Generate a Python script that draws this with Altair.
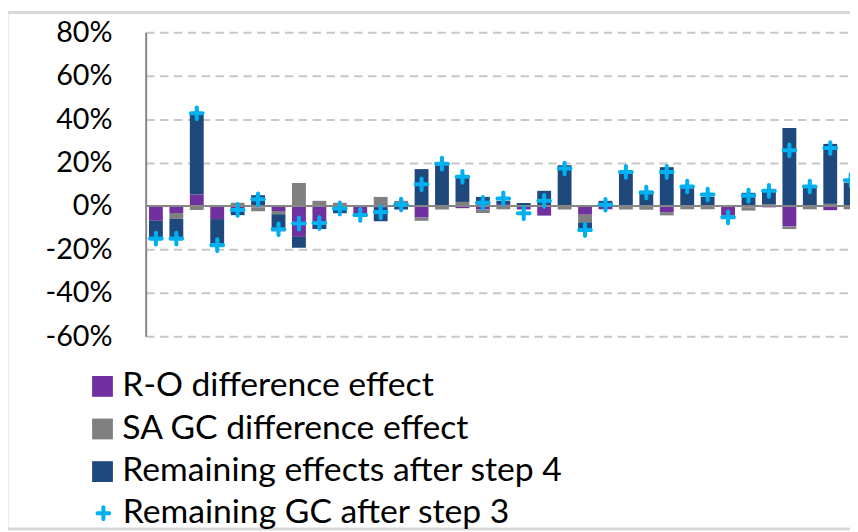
import altair as alt
import pandas as pd

# ---- data (percent) ----
categories = [str(i) for i in range(1, 36)]
ro_effect = [-6.8, -3.2, 5.3, -6.0, -1.0, -0.6, -2.3, -14.2, -7.3, -0.3,
             -3.7, -0.5, 0.0, -5.3, 0.0, -1.0, -1.6, 0.9, -1.6, -4.4,
             0.0, -4.0, -1.5, 0.0, 0.0, -2.8, 0.0, 0.0, -4.4, -0.6,
             -0.6, -9.4, 0.0, -1.9, 0.0]
sa_gc_effect = [0.0, -2.7, -1.8, 0.5, 1.5, -1.8, -1.5, 10.6, 2.4, 1.5,
                0.0, 4.2, 2.4, -1.5, -1.6, 1.9, -1.6, -1.5, 0.0, 0.0,
                -1.6, -3.5, 0.0, -1.6, -1.7, -1.5, -1.5, -1.5, 0.0, -1.5,
                0.9, -1.2, -1.5, 1.0, -1.5]
remaining_4 = [-8.0, -8.6, 37.4, -12.8, -3.2, 5.0, -7.8, -5.0, -3.3, -3.0,
               -0.3, -6.5, -1.6, 17.0, 18.8, 11.5, 4.2, 1.5, 1.4, 7.0,
               18.8, -3.2, 2.4, 15.8, 7.0, 17.9, 8.2, 4.3, 0.0, 6.1,
               6.4, 35.9, 8.8, 27.6, 10.8]
remaining_gc_3 = [-15.0, -15.0, 42.7, -18.0, -1.8, 3.1, -10.7, -8.0, -7.8, -1.1,
                  -4.1, -2.8, 0.7, 10.0, 19.5, 13.5, 1.5, 3.5, -3.3, 2.4,
                  17.3, -11.0, 0.6, 15.7, 6.2, 15.7, 9.0, 5.3, -5.2, 4.8,
                  7.0, 25.7, 9.0, 26.7, 11.9]

bar_series = ["R-O difference effect", "SA GC difference effect", "Remaining effects after step 4"]
bar_colors = ["#7030a0", "#808080", "#1f497d"]
point_series = "Remaining GC after step 3"
y_ticks = [-0.6, -0.4, -0.2, 0.0, 0.2, 0.4, 0.6, 0.8]

rows = []
for k, (name, vals) in enumerate(zip(bar_series, [ro_effect, sa_gc_effect, remaining_4])):
    for c, v in zip(categories, vals):
        rows.append({"cat": c, "series": name, "k": k, "value": v / 100.0})
bars_df = pd.DataFrame(rows)
pts_df = pd.DataFrame({"cat": categories,
                       "series": point_series,
                       "value": [v / 100.0 for v in remaining_gc_3]})
one = pd.DataFrame({"a": [0]})

FONT = "Lato"
AXIS_FS = 29
LEG_FS = 34
PLUS = ("M-0.26,-0.74 A0.26,0.26 0 0 1 0.26,-0.74 L0.26,-0.26 L0.74,-0.26 "
        "A0.26,0.26 0 0 1 0.74,0.26 L0.26,0.26 L0.26,0.74 "
        "A0.26,0.26 0 0 1 -0.26,0.74 L-0.26,0.26 L-0.74,0.26 "
        "A0.26,0.26 0 0 1 -0.74,-0.26 L-0.26,-0.26 Z")

xscale = alt.Scale(domain=categories, range=[0, 722], paddingInner=0.32, paddingOuter=0.16)
yscale = alt.Scale(domain=[-0.6, 0.8], nice=False, zero=False)

bars = alt.Chart(bars_df).mark_bar(size=14).encode(
    x=alt.X("cat:N", scale=xscale, axis=None, sort=categories),
    y=alt.Y("value:Q", stack="zero", scale=yscale,
            axis=alt.Axis(values=y_ticks, title=None, grid=True,
                          gridDash=[8.5, 5.5], gridColor="#c8c8c8", gridWidth=2,
                          domainColor="#868686", domainWidth=2, ticks=False,
                          labelPadding=34, labelFont=FONT, labelFontSize=AXIS_FS,
                          labelColor="black",
                          labelExpr="round(datum.value*100) + '%'")),
    color=alt.Color("series:N",
                    scale=alt.Scale(domain=bar_series, range=bar_colors),
                    legend=alt.Legend(orient="none", legendX=-60.6, legendY=340.5,
                                      title=None, symbolType="square", symbolSize=441,
                                      symbolStrokeWidth=0, labelFont=FONT,
                                      labelFontSize=LEG_FS, labelColor="black",
                                      labelLimit=1000, labelOffset=3, rowPadding=9,
                                      padding=0, direction="vertical")),
    order=alt.Order("k:Q", sort="ascending"),
)

zero_line = alt.Chart(one).mark_rule(color="#868686", strokeWidth=2).encode(
    y=alt.datum(0.0)
)

points = alt.Chart(pts_df).mark_point(filled=True, size=250, opacity=1,
                                      color="#00b0f0", strokeWidth=0).encode(
    x=alt.X("cat:N", scale=xscale, axis=None, sort=categories),
    y=alt.Y("value:Q", scale=yscale),
    shape=alt.Shape("series:N",
                    scale=alt.Scale(domain=[point_series], range=[PLUS]),
                    legend=alt.Legend(orient="none", legendX=-59.7, legendY=468.5,
                                      title=None, symbolSize=250,
                                      symbolFillColor="#00b0f0", symbolStrokeWidth=0,
                                      labelFont=FONT, labelFontSize=LEG_FS,
                                      labelColor="black", labelLimit=1000,
                                      labelOffset=2.5, padding=0)),
)

border = alt.Chart(one).mark_rect(filled=False, stroke="#d9d9d9", strokeWidth=3).encode(
    x=alt.value(-140), x2=alt.value(780), y=alt.value(-20), y2=alt.value(501.5)
)

chart = alt.layer(border, bars, zero_line, points).resolve_scale(
    color="independent"
).properties(
    width=711, height=307,
    autosize=alt.AutoSizeParams(type="none"),
    padding={"left": 139, "top": 22, "right": 0, "bottom": 195},
).configure_view(strokeWidth=0)

chart.save("out.html", embed_options={"renderer": "svg", "actions": False})
